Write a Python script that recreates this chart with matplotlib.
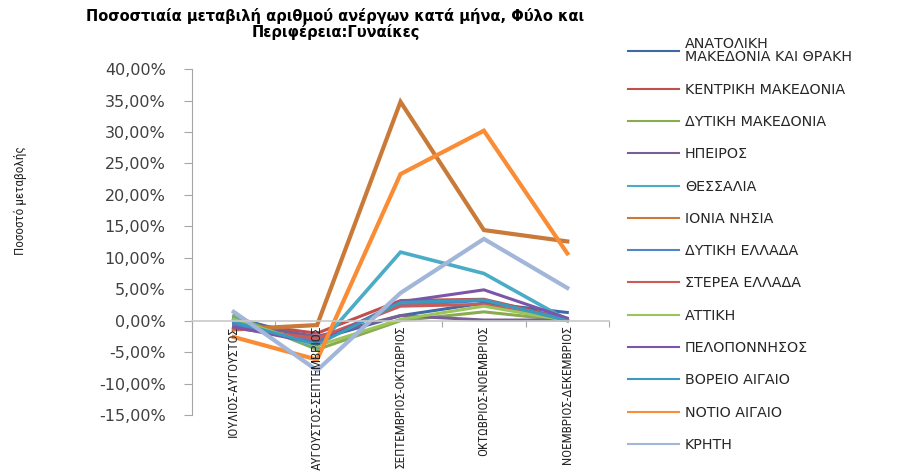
import matplotlib
matplotlib.use("Agg")
import matplotlib.pyplot as plt
from matplotlib.ticker import FuncFormatter, FixedLocator
from matplotlib import font_manager

# months pairs (x categories)
periods = ["ΙΟΥΛΙΟΣ-ΑΥΓΟΥΣΤΟΣ", "ΑΥΓΟΥΣΤΟΣ-ΣΕΠΤΕΜΒΡΙΟΣ", "ΣΕΠΤΕΜΒΡΙΟΣ-ΟΚΤΩΒΡΙΟΣ",
           "ΟΚΤΩΒΡΙΟΣ-ΝΟΕΜΒΡΙΟΣ", "ΝΟΕΜΒΡΙΟΣ-ΔΕΚΕΜΒΡΙΟΣ"]

# percent change per region (values in %)
anatoliki_makedonia = [0.5, -3.0, 0.8, 2.8, 1.3]
kentriki_makedonia = [-0.3, -2.0, 3.2, 3.4, 0.3]
dytiki_makedonia = [0.8, -4.6, 0.0, 1.4, 0.0]
ipeiros = [-0.5, -2.5, 0.8, 0.1, 0.1]
thessalia = [0.3, -4.2, 10.9, 7.5, 0.1]
ionia_nisia = [-1.4, -0.7, 34.8, 14.4, 12.6]
dytiki_ellada = [-0.8, -3.2, 2.5, 3.2, 0.2]
sterea_ellada = [-1.2, -2.8, 2.3, 2.6, 0.0]
attiki = [0.2, -4.0, 0.2, 2.3, 0.0]
peloponnisos = [-1.0, -3.6, 3.0, 4.9, 0.4]
voreio_aigaio = [-0.2, -3.8, 2.9, 3.3, 0.0]
notio_aigaio = [-2.6, -6.2, 23.3, 30.2, 10.7]
kriti = [1.4, -7.9, 4.4, 13.0, 5.2]

names = ["ΑΝΑΤΟΛΙΚΗ\nΜΑΚΕΔΟΝΙΑ ΚΑΙ ΘΡΑΚΗ", "ΚΕΝΤΡΙΚΗ ΜΑΚΕΔΟΝΙΑ", "ΔΥΤΙΚΗ ΜΑΚΕΔΟΝΙΑ",
         "ΗΠΕΙΡΟΣ", "ΘΕΣΣΑΛΙΑ", "ΙΟΝΙΑ ΝΗΣΙΑ", "ΔΥΤΙΚΗ ΕΛΛΑΔΑ", "ΣΤΕΡΕΑ ΕΛΛΑΔΑ",
         "ΑΤΤΙΚΗ", "ΠΕΛΟΠΟΝΝΗΣΟΣ", "ΒΟΡΕΙΟ ΑΙΓΑΙΟ", "ΝΟΤΙΟ ΑΙΓΑΙΟ", "ΚΡΗΤΗ"]
series = [anatoliki_makedonia, kentriki_makedonia, dytiki_makedonia, ipeiros, thessalia,
          ionia_nisia, dytiki_ellada, sterea_ellada, attiki, peloponnisos,
          voreio_aigaio, notio_aigaio, kriti]
colors = ["#3f6aa3", "#c0504d", "#8aab4f", "#7a5f94", "#4bacc6", "#c97a38", "#4f86c8",
          "#cc5a57", "#9bc55a", "#7a55a8", "#3a9bbf", "#f98c35", "#a2b6d9"]
widths = [2.2, 2.2, 2.2, 2.2, 2.6, 3.0, 2.2, 2.2, 2.2, 2.2, 2.2, 3.0, 3.0]

# a condensed face for the axis texts, if one is around
have = {f.name for f in font_manager.fontManager.ttflist}
narrow = None
for cand in ["Roboto Condensed", "Fira Sans Condensed", "Open Sans Condensed"]:
    if cand in have:
        narrow = cand
        break
if narrow:
    nfam = [narrow, "DejaVu Sans"]
    xlab_size, ylab_size = 9.5, 9.5
else:
    nfam = ["DejaVu Sans"]
    xlab_size, ylab_size = 5.8, 7.5

fig = plt.figure(figsize=(8.99, 4.73), dpi=100)
ax = fig.add_axes([0.2136, 0.1226, 0.4638, 0.7314])

x = range(len(periods))
for vals, name, c, w in zip(series, names, colors, widths):
    ax.plot(x, [v / 100 for v in vals], color=c, lw=w, label=name, solid_joinstyle="miter")

ax.set_xlim(-0.5, len(periods) - 0.5)
ax.set_ylim(-0.15, 0.40)
ax.set_yticks([i / 100 for i in range(-15, 41, 5)])
ax.yaxis.set_major_formatter(FuncFormatter(lambda v, p: f"{v * 100:.2f}%".replace(".", ",")))
ax.tick_params(axis="y", direction="out", length=6, width=0.8, color="#a6a6a6",
               labelsize=11.5, labelcolor="#404040", pad=13)

# category axis sits at zero
ax.spines["bottom"].set_position(("data", 0))
ax.spines["bottom"].set_color("#c8c8c8")
ax.spines["bottom"].set_linewidth(1.2)
ax.spines["left"].set_color("#a6a6a6")
ax.spines["top"].set_visible(False)
ax.spines["right"].set_visible(False)
ax.xaxis.set_major_locator(FixedLocator([i - 0.5 for i in range(len(periods) + 1)]))
ax.tick_params(axis="x", direction="out", length=4, color="#a6a6a6", labelbottom=False)

for i, lab in enumerate(periods):
    ax.annotate(lab, xy=(i, 0), xytext=(0, -3.5), textcoords="offset points",
                rotation=90, ha="center", va="top", fontsize=xlab_size, family=nfam,
                color="#262626", annotation_clip=False)

ax.set_ylabel("Ποσοστό μεταβολής", family=nfam, fontsize=ylab_size, color="#262626")
ax.yaxis.set_label_coords(-0.395, 0.62)

fig.text(0.373, 0.984, "Ποσοστιαία μεταβιλή αριθμού ανέργων κατά μήνα, Φύλο και\nΠεριφέρεια:Γυναίκες",
         ha="center", va="top", fontsize=10.5, fontweight="bold", linespacing=1.0)

leg = fig.legend(loc="upper left", bbox_to_anchor=(0.692, 0.933), frameon=False,
                 fontsize=10.3, handlelength=3.6, handletextpad=0.4, labelspacing=1.28,
                 borderaxespad=0)
for t in leg.get_texts():
    t.set_color("#262626")
leg.get_texts()[0].set_linespacing(0.9)
for h in leg.get_lines():
    h.set_linewidth(1.5)

fig.savefig("out.png", dpi=100)
